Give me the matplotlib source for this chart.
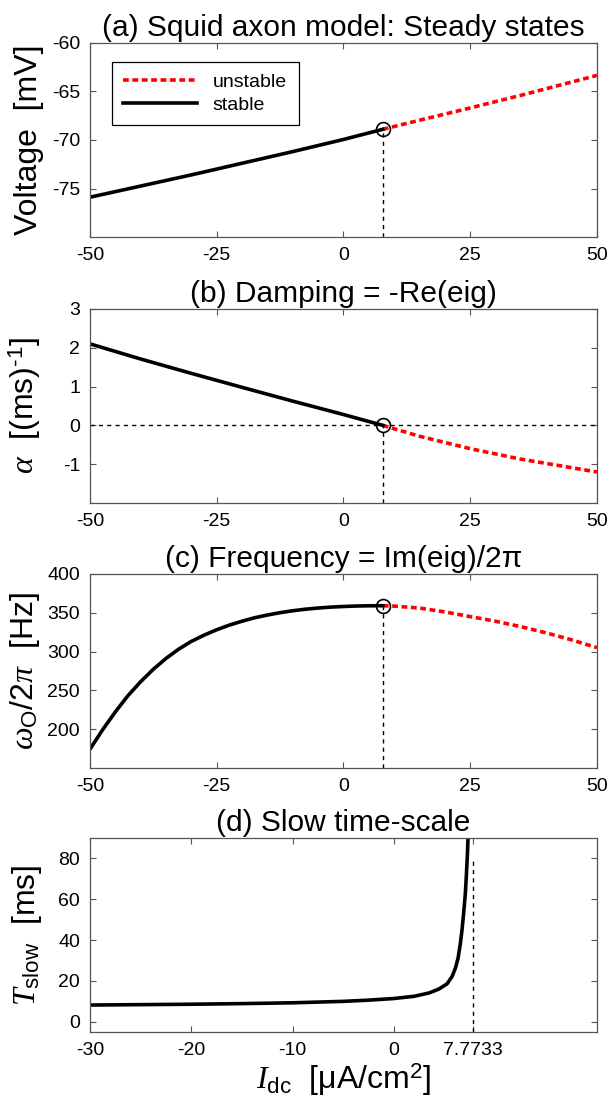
import numpy as np
import matplotlib.pyplot as plt

plt.rcParams['font.family'] = ['Liberation Sans', 'DejaVu Sans']
plt.rcParams['mathtext.fontset'] = 'custom'
plt.rcParams['mathtext.rm'] = 'Liberation Sans'
plt.rcParams['mathtext.it'] = 'Liberation Serif:italic'
plt.rcParams['mathtext.sf'] = 'Liberation Sans'
plt.rcParams['axes.unicode_minus'] = False

# bifurcation point
I_hopf = 7.7733

# (a) steady-state voltage
I_a_st = [-50, -40, -30, -20, -10, 0, I_hopf]
V_st = [-75.9, -74.75, -73.6, -72.4, -71.2, -69.95, -68.9]
I_a_un = [I_hopf, 15, 25, 35, 50]
V_un = [-68.9, -67.97, -66.7, -65.4, -63.35]

# (b) damping
I_b_st = [-50, -40, -30, -25, -20, -10, 0, I_hopf]
alpha_st = [2.1, 1.71, 1.34, 1.16, 0.98, 0.625, 0.28, 0.0]
I_b_un = [I_hopf, 15, 25, 35, 50]
alpha_un = [0.0, -0.28, -0.6, -0.87, -1.2]

# (c) frequency
I_c_st = [-50, -47.5, -45, -42.5, -40, -37.5, -35, -32.5, -30, -27.5, -25, -22.5,
          -20, -17.5, -15, -12.5, -10, -7.5, -5, -2.5, 0, 2.5, 5, I_hopf]
f_st = [174, 199, 222, 243, 261, 277, 291, 303, 313, 321, 328, 334,
        339, 343.5, 347, 350, 352.5, 354.5, 356, 357.2, 358, 358.6, 358.9, 359]
I_c_un = [I_hopf, 10, 15, 20, 25, 30, 35, 40, 45, 50]
f_un = [359, 358.5, 356, 351, 345, 339, 332, 324, 315, 305]

# (d) slow time-scale
I_d = [-30, -25, -20, -15, -10, -5, -2.5, 0, 2, 3.43, 4.41, 5.23, 5.72, 6.05,
       6.31, 6.54, 6.70, 6.86, 7.03, 7.12, 7.22, 7.29]
T_slow = [8.2, 8.4, 8.6, 8.9, 9.3, 10.0, 10.6, 11.4, 12.5, 14.1, 16.0, 18.6, 22.2, 26.3,
          31.2, 38.6, 45.1, 53.3, 63.1, 71.2, 81.0, 90.0]

red_dots = (0, (1.6, 1.0))
thin_dash = (0, (3, 3))
tick_fs = 14
lab_fs = 23
title_fs = 21.5

fig = plt.figure(figsize=(6.11, 11), dpi=100)
L, W, H = 0.147, 0.83, 0.1765
bottoms = [0.7845, 0.5427, 0.3018, 0.0618]
axes = [fig.add_axes([L, b, W, H]) for b in bottoms]


def style(ax):
    for s in ax.spines.values():
        s.set_color('#555555')
        s.set_linewidth(0.9)
    ax.tick_params(direction='in', length=4, width=0.8, color='#555555',
                   labelsize=tick_fs, top=True, right=True, pad=7)


def circle(ax, y):
    ax.plot([I_hopf], [y], 'o', ms=10, mfc='none', mec='black', mew=1.2, zorder=5)


# (a)
ax = axes[0]
ax.plot([I_hopf, I_hopf], [-80, V_st[-1]], color='black', lw=1, ls=thin_dash)
l_un, = ax.plot(I_a_un, V_un, color='red', lw=2.6, ls=red_dots, label='unstable')
l_st, = ax.plot(I_a_st, V_st, color='black', lw=2.6, label='stable')
circle(ax, V_st[-1])
ax.set_xlim(-50, 50)
ax.set_ylim(-80, -60)
ax.set_xticks([-50, -25, 0, 25, 50])
ax.set_yticks([-75, -70, -65, -60])
ax.set_ylabel('Voltage  [mV]', fontsize=lab_fs, labelpad=6)
ax.set_title('(a) Squid axon model: Steady states', fontsize=title_fs, pad=5)
leg = ax.legend(handles=[l_un, l_st], loc='upper left', bbox_to_anchor=(0.043, 0.902),
                borderaxespad=0, fontsize=tick_fs, fancybox=False, framealpha=1,
                edgecolor='black', handlelength=3.8, borderpad=0.6, labelspacing=0.25,
                handletextpad=0.8)
leg.get_frame().set_linewidth(0.9)
style(ax)

# (b)
ax = axes[1]
ax.axhline(0, color='black', lw=1, ls=thin_dash)
ax.plot([I_hopf, I_hopf], [-2, 0], color='black', lw=1, ls=thin_dash)
ax.plot(I_b_un, alpha_un, color='red', lw=2.6, ls=red_dots)
ax.plot(I_b_st, alpha_st, color='black', lw=2.6)
circle(ax, 0)
ax.set_xlim(-50, 50)
ax.set_ylim(-2, 3)
ax.set_xticks([-50, -25, 0, 25, 50])
ax.set_yticks([-1, 0, 1, 2, 3])
ax.set_ylabel(r'$\alpha$  [(ms)$^{\text{-1}}$]', fontsize=lab_fs, labelpad=14)
ax.set_title('(b) Damping = -Re(eig)', fontsize=title_fs, pad=5)
style(ax)

# (c)
ax = axes[2]
ax.plot([I_hopf, I_hopf], [150, f_st[-1]], color='black', lw=1, ls=thin_dash)
ax.plot(I_c_un, f_un, color='red', lw=2.6, ls=red_dots)
ax.plot(I_c_st, f_st, color='black', lw=2.6)
circle(ax, f_st[-1])
ax.set_xlim(-50, 50)
ax.set_ylim(150, 400)
ax.set_xticks([-50, -25, 0, 25, 50])
ax.set_yticks([200, 250, 300, 350, 400])
ax.set_ylabel(r'$\omega_{\mathrm{O}}$/2$\pi$  [Hz]', fontsize=lab_fs, labelpad=4)
ax.set_title('(c) Frequency = Im(eig)/2π', fontsize=title_fs, pad=5)
style(ax)

# (d)
ax = axes[3]
ax.plot([I_hopf, I_hopf], [-5, 80], color='black', lw=1, ls=thin_dash)
ax.plot(I_d, T_slow, color='black', lw=2.6)
ax.set_xlim(-30, 20)
ax.set_ylim(-5, 90)
ax.set_xticks([-30, -20, -10, 0, I_hopf])
ax.set_xticklabels(['-30', '-20', '-10', '0', '7.7733'])
ax.set_yticks([0, 20, 40, 60, 80])
ax.set_ylabel(r'$T_{\mathrm{slow}}$  [ms]', fontsize=lab_fs, labelpad=10)
ax.set_xlabel(r'$I_{\mathrm{dc}}$  [μA/cm$^{\mathrm{2}}$]', fontsize=23, labelpad=2)
ax.set_title('(d) Slow time-scale', fontsize=title_fs, pad=5)
style(ax)

fig.savefig('out.png', dpi=100)
